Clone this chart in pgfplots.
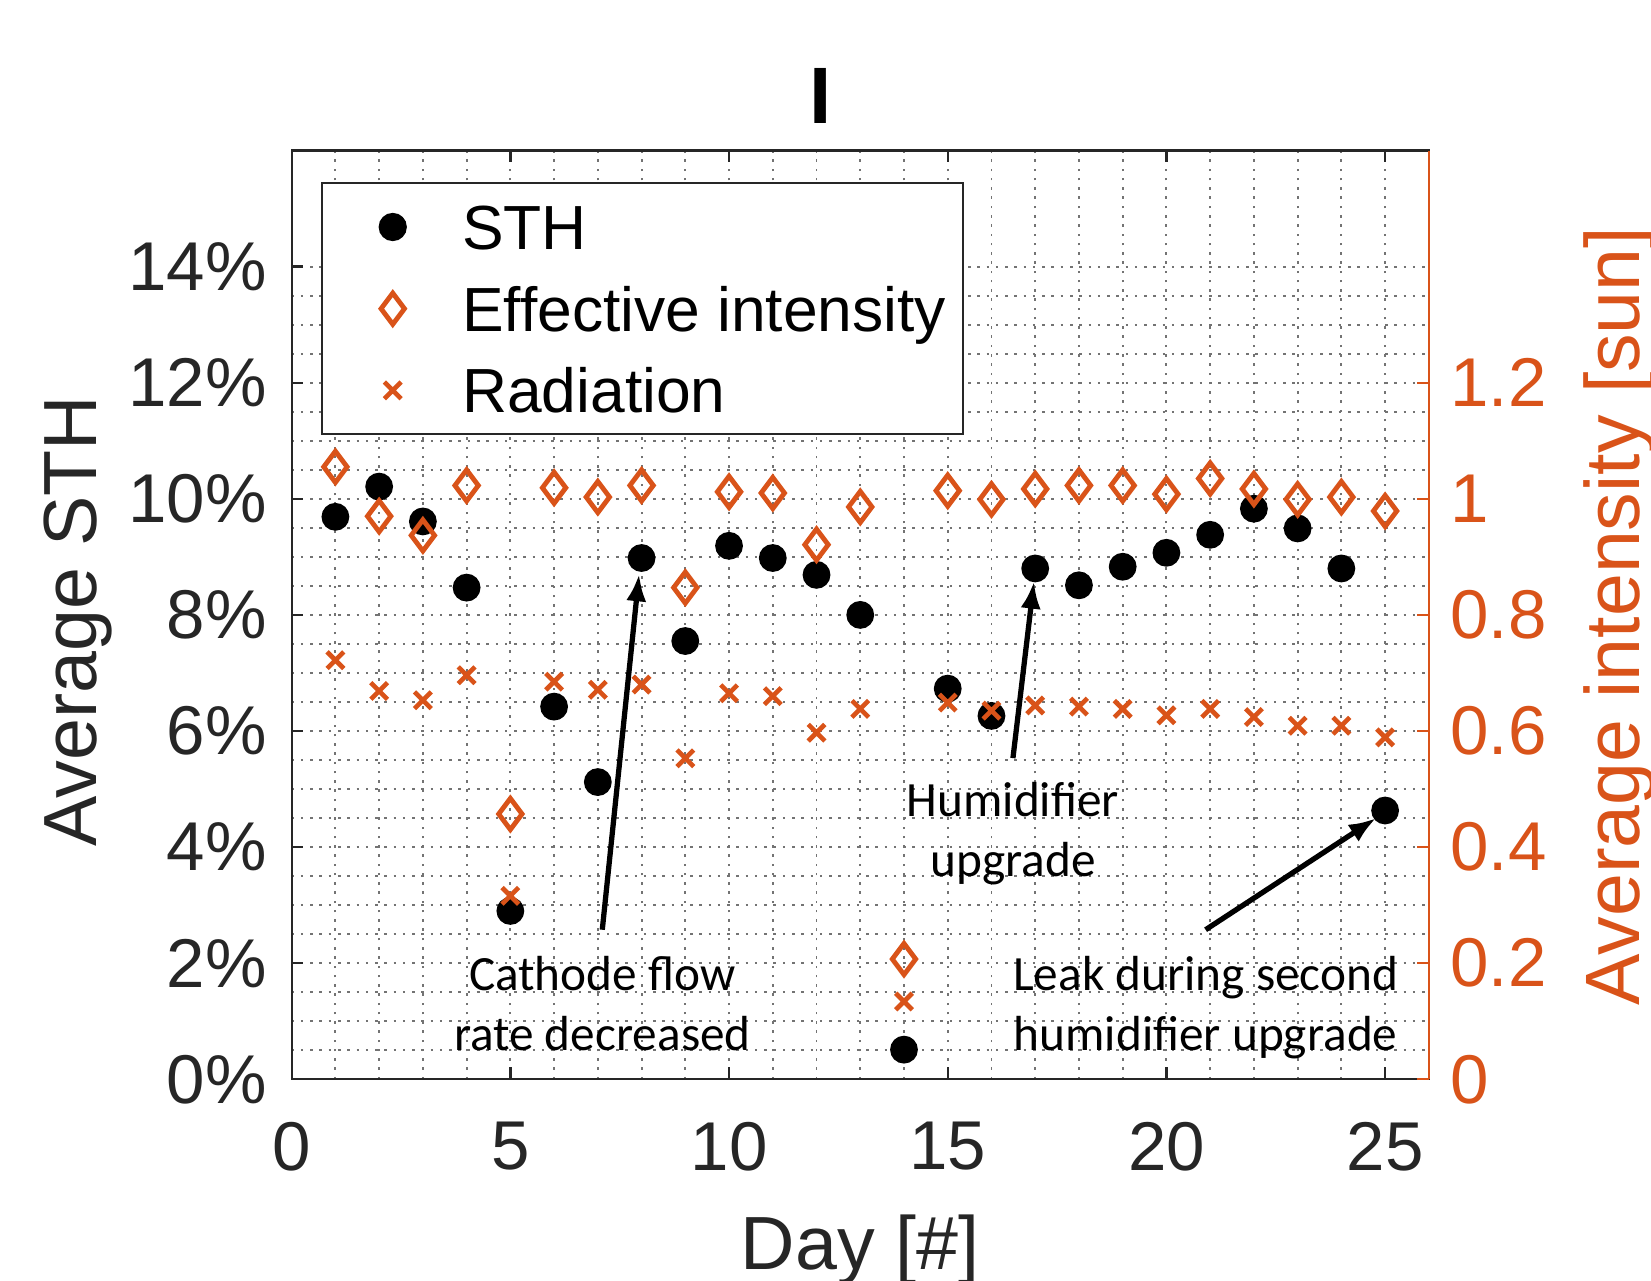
\documentclass[border=0pt]{standalone}
\usepackage{pgfplots}
\usepackage{pgfplotstable}
\pgfplotsset{compat=1.18}
\usepackage{fontspec}
\setmainfont{Liberation Sans}
\newfontfamily\calibri{Carlito}
\usetikzlibrary{arrows.meta}
\definecolor{morange}{RGB}{217,83,25}
\definecolor{mgray}{RGB}{38,38,38}

\pgfplotstableread{
day sth
1 9.69
2 10.21
3 9.61
4 8.47
5 2.90
6 6.42
7 5.12
8 8.98
9 7.55
10 9.19
11 8.98
12 8.69
13 8.00
14 0.51
15 6.73
16 6.26
17 8.80
18 8.51
19 8.83
20 9.07
21 9.38
22 9.83
23 9.49
24 8.80
25 4.63
}\sthtable

\pgfplotstableread{
day eff rad
1 1.055 0.722
2 0.970 0.669
3 0.937 0.653
4 1.023 0.696
5 0.457 0.316
6 1.019 0.685
7 1.003 0.671
8 1.023 0.680
9 0.847 0.553
10 1.012 0.665
11 1.010 0.660
12 0.921 0.597
13 0.986 0.638
14 0.207 0.134
15 1.014 0.649
16 0.999 0.635
17 1.017 0.644
18 1.023 0.642
19 1.023 0.638
20 1.008 0.627
21 1.035 0.638
22 1.017 0.624
23 0.999 0.609
24 1.003 0.609
25 0.979 0.589
}\inttable

\begin{document}
\begin{tikzpicture}
\pgfplotsset{
  every axis/.append style={
    scale only axis, width=270pt, height=220.5pt,
    xmin=0, xmax=26,
    tick align=inside,
    major tick length=2.8pt,
    tick label style={font=\fontsize{16.4}{18}\selectfont},
    /pgf/number format/assume math mode=true,
  }
}
\begin{axis}[
  name=main,
  ymin=0, ymax=16,
  xtick={0,5,10,15,20,25},
  ytick={0,2,4,6,8,10,12,14},
  minor x tick num=4,
  minor y tick num=3,
  minor tick length=0pt,
  xtick pos=both, ytick pos=left,
  grid=both,
  major grid style={black!55, line width=0.45pt, dash pattern=on 0.6pt off 1.6pt},
  minor grid style={black!55, line width=0.45pt, dash pattern=on 0.6pt off 1.6pt},
  axis line style={mgray, line width=0.55pt},
  tick style={mgray, line width=0.55pt},
  yticklabel={\pgfmathprintnumber{\tick}\%},
  yticklabel style={mgray, xshift=-2.4pt},
  xticklabel style={mgray, yshift=-6.6pt},
  xlabel={Day [\#]},
  xlabel style={mgray, font=\fontsize{17.9}{20}\selectfont, at={(axis description cs:0.5,-0.2045)}, anchor=base},
  ylabel={Average STH},
  ylabel style={mgray, font=\fontsize{17.9}{20}\selectfont, at={(axis description cs:-0.172,0.493)}, anchor=base},
  title={I},
  title style={at={(axis description cs:0.4648,1.0295)}, anchor=base, yshift=-6pt, font=\fontsize{19}{21}\selectfont\bfseries},
]
\addplot[only marks, mark=*, mark size=3.1pt, black] table[x=day, y=sth]{\sthtable};

\draw[line width=1.25pt, -{Latex[length=6.5pt,width=4.8pt]}] (axis cs:7.102,2.576) -- (axis cs:7.944,8.707);
\draw[line width=1.25pt, -{Latex[length=6.5pt,width=4.8pt]}] (axis cs:16.491,5.533) -- (axis cs:16.972,8.580);
\draw[line width=1.25pt, -{Latex[length=6.5pt,width=4.8pt]}] (axis cs:20.896,2.576) -- (axis cs:24.796,4.499);
\node[font=\calibri\fontsize{11.7}{14.25}\selectfont, align=center, inner sep=0pt] at (axis cs:7.102,1.306) {Cathode flow\\rate decreased};
\node[font=\calibri\fontsize{11.7}{14.25}\selectfont, align=center, inner sep=0pt] at (axis cs:16.491,4.227) {Humidifier\\upgrade};
\node[font=\calibri\fontsize{11.7}{14.25}\selectfont, align=center, inner sep=0pt] at (axis cs:20.896,1.234) {Leak during second\\humidifier upgrade};
\end{axis}

\begin{axis}[
  ymin=0, ymax=1.6,
  axis y line*=right, axis x line=none,
  ytick={0,0.2,0.4,0.6,0.8,1,1.2},
  y axis line style={morange, line width=0.55pt},
  ytick style={morange, line width=0.55pt},
  yticklabel style={morange, xshift=1.6pt},
  ylabel={Average intensity [sun]},
  ylabel style={morange, font=\fontsize{18.3}{20}\selectfont, at={(axis description cs:1.1852,0.4989)}, anchor=base},
  legend style={
    at={(axis description cs:0.02593,0.96599)}, anchor=north west,
    draw=mgray, line width=0.5pt, fill=white,
    font=\fontsize{14.8}{17}\selectfont,
    inner xsep=4pt, inner ysep=3.7pt,
    row sep=6pt, column sep=3.75pt,
    nodes={inner sep=0pt, text height=12pt, text depth=1.4pt},
  },
  legend cell align=left,
  legend image code/.code={
    \path[draw=none, fill=none] (0pt,0pt) -- (25.5pt,0pt);
    \draw[#1] plot coordinates {(12.75pt,0pt)};
  },
]
\addlegendimage{only marks, mark=*, mark size=3.1pt, black}
\addlegendentry{STH}
\addplot[only marks, mark=diamond, mark size=3.7pt, morange, line width=1.15pt] table[x=day, y=eff]{\inttable};
\addlegendentry{Effective intensity}
\addplot[only marks, mark=x, mark size=2.8pt, morange, line width=1.1pt] table[x=day, y=rad]{\inttable};
\addlegendentry{Radiation}
\end{axis}

\pgfresetboundingbox
\path[use as bounding box] ([shift={(-69.25pt,-47.75pt)}]main.south west) rectangle ([shift={(52.75pt,35.75pt)}]main.north east);
\end{tikzpicture}
\end{document}
